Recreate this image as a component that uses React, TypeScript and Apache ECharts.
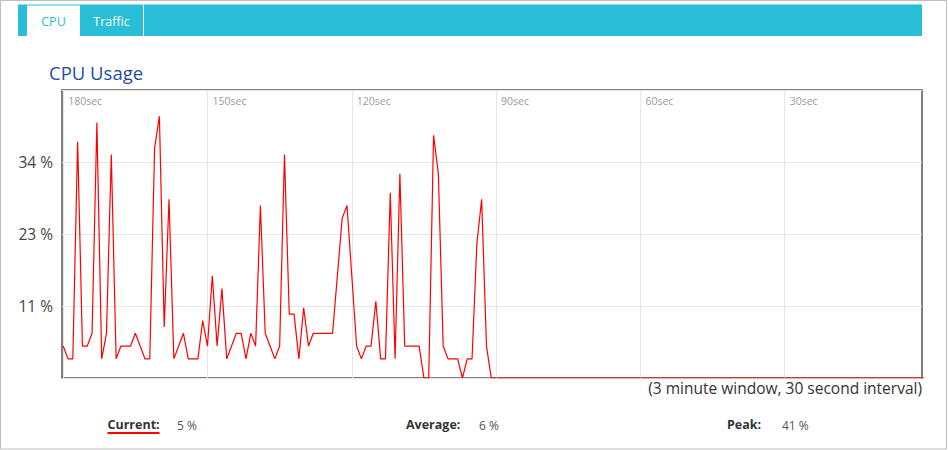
import React, { useEffect, useRef } from "react";
import * as echarts from "echarts";

// CPU usage (%) one value per second, from 180 sec ago down to 1 sec ago
const CPU_VALUES: number[] = [
  5, 3, 3, 37, 5, 5, 7, 40, 3, 7,
  35, 3, 5, 5, 5, 7, 5, 3, 3, 36,
  41, 8, 28, 3, 5, 7, 3, 3, 3, 9,
  5, 16, 5, 14, 3, 5, 7, 7, 3, 7,
  5, 27, 7, 5, 3, 5, 35, 10, 10, 3,
  11, 5, 7, 7, 7, 7, 7, 16, 25, 27,
  16, 5, 3, 5, 5, 12, 3, 3, 29, 3,
  32, 5, 5, 5, 5, 0, 0, 38, 32, 5,
  3, 3, 3, 0, 3, 3, 21, 28, 5, 0,
  0, 0, 0, 0, 0, 0, 0, 0, 0, 0,
  0, 0, 0, 0, 0, 0, 0, 0, 0, 0,
  0, 0, 0, 0, 0, 0, 0, 0, 0, 0,
  0, 0, 0, 0, 0, 0, 0, 0, 0, 0,
  0, 0, 0, 0, 0, 0, 0, 0, 0, 0,
  0, 0, 0, 0, 0, 0, 0, 0, 0, 0,
  0, 0, 0, 0, 0, 0, 0, 0, 0, 0,
  0, 0, 0, 0, 0, 0, 0, 0, 0, 0,
  0, 0, 0, 0, 0, 0, 0, 0, 0, 0,
];
const WINDOW_SECONDS = 180;
const X_TICKS: number[] = [180, 150, 120, 90, 60, 30];
const TABS: string[] = ["CPU", "Traffic"];
const TITLE = "CPU Usage";
const FOOTNOTE = "(3 minute window, 30 second interval)";
const STAT_LABELS: string[] = ["Current:", "Average:", "Peak:"];
const STAT_VALUES: number[] = [5, 6, 41];

export default function App() {
  const ref = useRef<HTMLDivElement>(null);
  useEffect(() => {
    if (!ref.current) return;
    const chart = echarts.init(ref.current, null, { renderer: "svg" });
    const peak = STAT_VALUES[2];
    const yMax = peak * 1.1;
    const data = CPU_VALUES.map((v, i) => [WINDOW_SECONDS - i, v]);
    const font = "'Open Sans', 'Noto Sans', sans-serif";
    const txt = (text: string, x: number, y: number, f: string, fill: string, align = "left") => ({
      type: "text",
      x,
      y,
      silent: true,
      style: {
        text,
        font: f,
        fill,
        align,
        verticalAlign: "middle",
        textAlign: align,
        textVerticalAlign: "middle",
      },
    });
    const statX = [107.5, 406, 727];
    const valX = [177, 479, 782];
    const graphic: any[] = [
      { type: "rect", shape: { x: 0.5, y: 0.5, width: 946, height: 448.5 }, style: { fill: "none", stroke: "#bdbdbd", lineWidth: 1 }, silent: true },
      { type: "rect", shape: { x: 18, y: 4.5, width: 904, height: 31.5 }, style: { fill: "#29bed8" }, silent: true },
      { type: "rect", shape: { x: 27, y: 5.5, width: 53, height: 30.5 }, style: { fill: "#ffffff" }, silent: true },
      { type: "line", shape: { x1: 143.5, y1: 5, x2: 143.5, y2: 36 }, style: { stroke: "#ffffff", lineWidth: 1 }, silent: true },
      txt(TABS[0], 53.5, 21, `12.5px ${font}`, "#29bed8", "center"),
      txt(TABS[1], 111.5, 21, `12.5px ${font}`, "#ffffff", "center"),
      txt(TITLE, 49, 72, `18.5px ${font}`, "#1f4ea3"),
      txt(FOOTNOTE, 922, 387.5, `15.5px ${font}`, "#333333", "right"),
      { type: "rect", shape: { x: 107.5, y: 432, width: 52, height: 2 }, style: { fill: "#ff0000" }, silent: true },
    ];
    STAT_LABELS.forEach((l, i) => {
      graphic.push(txt(l, statX[i], 424, `bold 12.5px ${font}`, "#333333"));
      graphic.push(txt(`${STAT_VALUES[i]} %`, valX[i], 425, `12px ${font}`, "#555555"));
    });

    chart.setOption({
      animation: false,
      backgroundColor: "#ffffff",
      grid: {
        left: 62,
        right: 26,
        top: 90,
        bottom: 72,
        show: true,
        borderColor: "#555555",
        borderWidth: 1.5,
        backgroundColor: "#ffffff",
      },
      xAxis: {
        type: "value",
        inverse: true,
        min: 1.45,
        max: 180.25,
        position: "top",
        axisLine: { show: false },
        axisTick: { show: false, customValues: X_TICKS },
        axisLabel: {
          customValues: X_TICKS,
          inside: true,
          formatter: (v: number) => `${v}sec`,
          align: "left",
          verticalAlign: "middle",
          margin: 11,
          padding: [0, 0, 0, 5],
          color: "#9a9a9a",
          fontSize: 10.5,
          fontFamily: font,
        },
        splitLine: { show: true, lineStyle: { color: "#e6e6e6", width: 1 } },
      },
      yAxis: {
        type: "value",
        min: 0,
        max: yMax,
        interval: yMax / 4,
        axisLine: { show: false },
        axisTick: { show: false },
        axisLabel: {
          formatter: (v: number) => (v <= 0.001 || v >= yMax - 0.01 ? "" : `${Math.round(v)} %`),
          fontSize: 15.5,
          color: "#444444",
          margin: 9,
          fontFamily: font,
        },
        splitLine: { show: true, lineStyle: { color: "#e6e6e6", width: 1 } },
      },
      series: [
        {
          type: "line",
          data,
          showSymbol: false,
          symbol: "none",
          lineStyle: { color: "#ff0000", width: 1.2 },
          itemStyle: { color: "#ff0000" },
          z: 3,
        },
      ],
      graphic,
    });
    return () => chart.dispose();
  }, []);
  return <div ref={ref} style={{ position: "absolute", left: 0, top: 0, width: 948, height: 450 }} />;
}
